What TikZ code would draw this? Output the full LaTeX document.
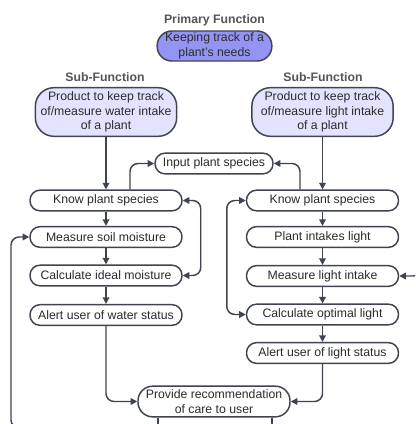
\documentclass[tikz,border=0pt]{standalone}
\usepackage{fontspec}
\setmainfont{Liberation Sans}
\usetikzlibrary{arrows.meta,calc}
\definecolor{ln}{HTML}{3F4450}
\definecolor{txt}{HTML}{2B2B2B}
\definecolor{ttl}{HTML}{555555}
\definecolor{prim}{HTML}{9494F5}
\definecolor{subf}{HTML}{E3E3FF}
\begin{document}
\begin{tikzpicture}[x=0.75pt,y=-0.75pt,
  box/.style={draw=ln,line width=1.1pt,rounded corners=7.5pt,fill=white,text=txt,
    font=\fontsize{9.2pt}{11pt}\selectfont,inner sep=0pt,align=center,
    minimum width=114pt,minimum height=15.5pt},
  bigbox/.style={box,rounded corners=14pt,minimum height=36.5pt,minimum width=106pt},
  title/.style={text=ttl,font=\fontsize{9.2pt}{11pt}\selectfont\bfseries},
  arr/.style={draw=ln,line width=1.1pt,rounded corners=6pt,-{Triangle[width=5pt,length=5pt]}},
  arrb/.style={draw=ln,line width=1.1pt,rounded corners=6pt,{Triangle[width=5pt,length=5pt]}-{Triangle[width=5pt,length=5pt]}},
  ln/.style={draw=ln,line width=1.1pt,rounded corners=6pt}]
\useasboundingbox (0,0) rectangle (415,424);
\clip (0,0) rectangle (415,424);
\fill[white] (0,0) rectangle (415,424);

\node[title] (tp) at (214.5,20) {Primary Function};
\node[box,fill=prim,minimum width=86pt,minimum height=22.5pt,rounded corners=11pt] (prim) at (214.5,46) {Keeping track of a\\plant's needs};
\node[title] (tsl) at (105,77) {Sub-Function};
\node[title] (tsr) at (323,77) {Sub-Function};
\node[bigbox,fill=subf] (subL) at (106,112) {Product to keep track\\of/measure water intake\\of a plant};
\node[bigbox,fill=subf] (subR) at (322.5,112) {Product to keep track\\of/measure light intake\\of a plant};

\node[box,minimum width=88.5pt] (input) at (214,163.5) {Input plant species};

\node[box] (knowL) at (106,200.5) {Know plant species};
\node[box] (measL) at (106,237) {Measure soil moisture};
\node[box] (calcL) at (106,275.5) {Calculate ideal moisture};
\node[box] (alertL) at (106,315) {Alert user of water status};

\node[box] (knowR) at (322.5,200.5) {Know plant species};
\node[box] (plantR) at (322.5,237) {Plant intakes light};
\node[box] (measR) at (322.5,276) {Measure light intake};
\node[box] (calcR) at (322.5,314.5) {Calculate optimal light};
\node[box] (alertR) at (322.5,353) {Alert user of light status};

\node[box,rounded corners=11pt,minimum height=23pt] (prov) at (214,401.5) {Provide recommendation\\of care to user};

\coordinate (lb) at (60,428);
\coordinate (rt) at (430,250);
\coordinate (pl) at (158,440);
\coordinate (pr) at (272,440);

\draw[arr] (subL) -- (knowL);
\draw[arr] (subR) -- (knowR);
\draw[arr] (130,0 |- knowL.north) |- (input.west);
\draw[arr] (300,0 |- knowR.north) |- (input.east);
\draw[arrb] (knowL.east) -- ++(18,0) |- (calcL.east);
\draw[arrb] (knowR.west) -- ++(-19,0) |- (calcR.west);
\draw[arr] (knowL) -- (measL);
\draw[arr] (measL) -- (calcL);
\draw[arr] (calcL) -- (alertL);
\draw[arr] (knowR) -- (plantR);
\draw[arr] (plantR) -- (measR);
\draw[arr] (measR) -- (calcR);
\draw[arr] (calcR) -- (alertR);
\draw[arr] (alertL) |- (prov.west);
\draw[arr] (alertR) |- (prov.east);
\draw[arr] (lb) -- (11,428) |- (measL.west);
\draw[arr] (rt) -- (421,250) |- (measR.east);
\draw[ln] (158,0 |- prov.south) -- (pl);
\draw[ln] (272,0 |- prov.south) -- (pr);
\end{tikzpicture}
\end{document}
